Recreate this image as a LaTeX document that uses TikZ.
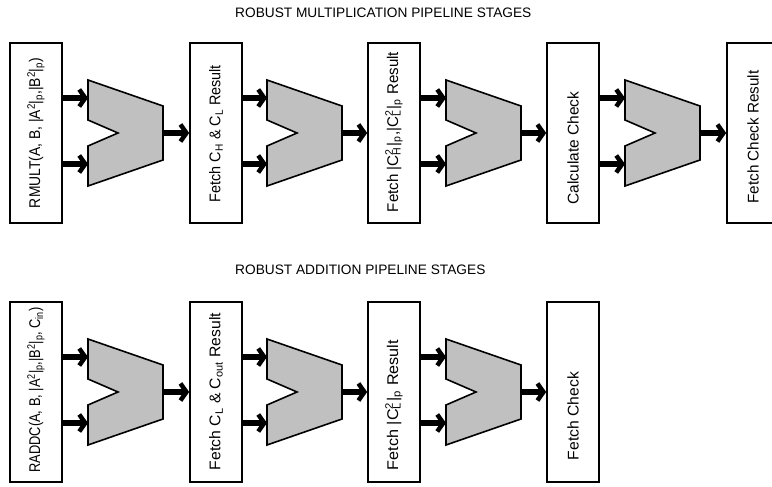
\documentclass[tikz,border=0pt]{standalone}
\usepackage{fontspec}
\usepackage{graphicx}
\setmainfont{Liberation Sans}
\usetikzlibrary{arrows.meta}
\definecolor{muxgray}{RGB}{192,192,192}
% subscript and superscript stacked on one another
\newcommand\stk[2]{\makebox[0pt][l]{\textsubscript{#1}}\makebox[0pt][l]{\textsuperscript{#2}}\hphantom{\textsubscript{#1}}\kern1.2pt}
% caption set to a given run length, keeping its natural height
\newcommand\fitto[2]{\resizebox{#1}{\height}{#2}}
\begin{document}
\begin{tikzpicture}[x=1pt,y=-1pt,
  stage/.style={draw=black, line width=1.6pt, minimum width=52pt,
    minimum height=180pt, inner sep=0pt},
  stagetext/.style={rotate=90, inner sep=0pt, font=\fontsize{15.5}{17}\selectfont},
  bus/.style={line width=6pt,
    -{Straight Barb[length=6pt,width=17pt,line width=4.5pt]}},
  heading/.style={anchor=west, inner sep=0pt, font=\fontsize{13.7}{16}\selectfont},
  mux/.pic={
    \draw[fill=muxgray, line width=1.6pt, line join=miter]
      (0,-53) -- (75,-27) -- (75,27) -- (0,53) -- (0,13) -- (30,0) -- (0,-13) -- cycle;
    \coordinate (-in1) at (0,-35);
    \coordinate (-in2) at (0,31);
    \coordinate (-out) at (75,0);
  }]
\clip (0,0) rectangle (772,487);

% ---------- multiplication pipeline ----------
\node[heading] (t1) at (235,13) {ROBUST MULTIPLICATION PIPELINE STAGES};

\node[stage] (m1) at (36,133) {};
\node[stage] (m2) at (216,133) {};
\node[stage] (m3) at (394,133) {};
\node[stage] (m4) at (573,133) {};
\node[stage] (m5) at (753,133) {};

\node[stagetext] (lm1) at (m1.center) {\fitto{150pt}{RMULT(A, B, |A\textsuperscript{2}|\textsubscript{p},|B\textsuperscript{2}|\textsubscript{p})}};
\node[stagetext] (lm2) at ([yshift=-0.5pt]m2.center) {\fitto{137pt}{Fetch C\textsubscript{H} \& C\textsubscript{L} Result}};
\node[stagetext] (lm3) at ([yshift=1pt]m3.center) {\fitto{160pt}{Fetch |C\stk{H}{2}|\textsubscript{p},|C\stk{L}{2}|\textsubscript{p} Result}};
\node[stagetext] (lm4) at ([yshift=-15pt]m4.center) {\fitto{113pt}{Calculate Check}};
\node[stagetext] (lm5) at ([yshift=-4pt]m5.center) {\fitto{133pt}{Fetch Check Result}};

\pic (x1) at (88,133) {mux};
\pic (x2) at (267,133) {mux};
\pic (x3) at (446,133) {mux};
\pic (x4) at (625,133) {mux};

\foreach \b/\x/\n in {m1/x1/m2, m2/x2/m3, m3/x3/m4, m4/x4/m5}{
  \draw[bus] (\b.east |- \x-in1) -- (\x-in1);
  \draw[bus] (\b.east |- \x-in2) -- (\x-in2);
  \draw[bus] (\x-out) -- (\n.west |- \x-out);
}

% ---------- addition pipeline ----------
\node[heading] (t2) at (235,270) {ROBUST ADDITION PIPELINE STAGES};

\node[stage] (a1) at (36,392) {};
\node[stage] (a2) at (216,392) {};
\node[stage] (a3) at (394,392) {};
\node[stage] (a4) at (573,392) {};

\node[stagetext] (la1) at ([yshift=2pt]a1.center) {\fitto{165pt}{RADDC(A, B, |A\textsuperscript{2}|\textsubscript{p},|B\textsuperscript{2}|\textsubscript{p}, C\textsubscript{in})}};
\node[stagetext] (la2) at ([yshift=0.5pt]a2.center) {\fitto{157pt}{Fetch C\textsubscript{L} \& C\textsubscript{out} Result}};
\node[stagetext] (la3) at ([yshift=-13pt]a3.center) {\fitto{130pt}{Fetch |C\stk{L}{2}|\textsubscript{p} Result}};
\node[stagetext] (la4) at ([yshift=-24pt]a4.center) {\fitto{88pt}{Fetch Check}};

\pic (y1) at (88,392) {mux};
\pic (y2) at (267,392) {mux};
\pic (y3) at (446,392) {mux};

\foreach \b/\x/\n in {a1/y1/a2, a2/y2/a3, a3/y3/a4}{
  \draw[bus] (\b.east |- \x-in1) -- (\x-in1);
  \draw[bus] (\b.east |- \x-in2) -- (\x-in2);
  \draw[bus] (\x-out) -- (\n.west |- \x-out);
}
\end{tikzpicture}
\end{document}
